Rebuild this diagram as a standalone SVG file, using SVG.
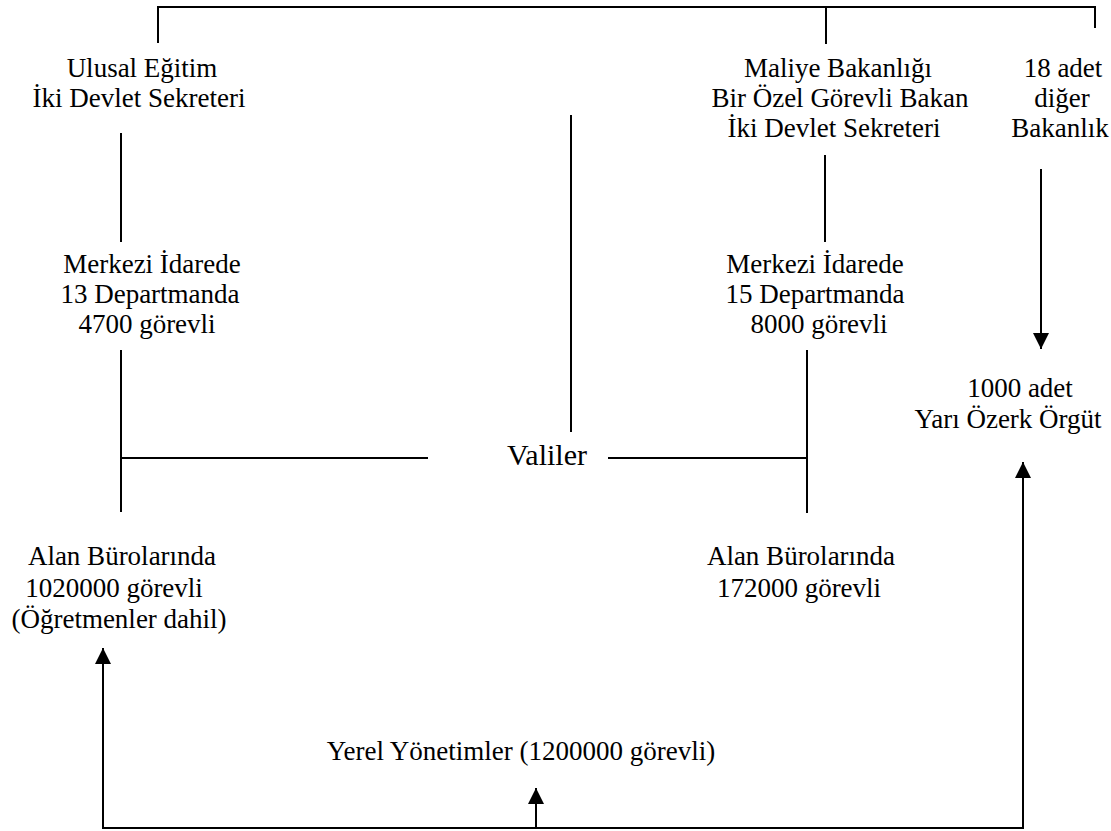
<svg xmlns="http://www.w3.org/2000/svg" width="1111" height="831" viewBox="0 0 1111 831">
<style>
text{font-family:"Liberation Serif","Times New Roman",serif;font-size:27px;fill:#000;text-anchor:middle}
.big{font-size:30px}
.ln{stroke:#000;stroke-width:2;fill:none}
</style>
<defs>
<marker id="ah" markerUnits="userSpaceOnUse" markerWidth="16" markerHeight="16" viewBox="0 0 16 16" refX="16" refY="8" orient="auto">
<path d="M0,0 L16,8 L0,16 Z" fill="#000"/>
</marker>
</defs>
<rect width="1111" height="831" fill="#fff"/>
<g id="connectors">
<path class="ln" d="M158,43 V7 H1095 V28 M826,7 V44"/>
<line class="ln" x1="121" y1="133" x2="121" y2="242"/>
<line class="ln" x1="121" y1="350" x2="121" y2="512"/>
<line class="ln" x1="121" y1="458" x2="428" y2="458"/>
<line class="ln" x1="825" y1="155" x2="825" y2="242"/>
<line class="ln" x1="807" y1="350" x2="807" y2="513"/>
<line class="ln" x1="608" y1="458" x2="807" y2="458"/>
<line class="ln" x1="571" y1="115" x2="571" y2="432"/>
<line class="ln" x1="1041" y1="169" x2="1041" y2="349" marker-end="url(#ah)"/>
<path class="ln" d="M536,828 H103 V648" marker-end="url(#ah)"/>
<path class="ln" d="M536,828 H1023 V462" marker-end="url(#ah)"/>
<line class="ln" x1="536" y1="828" x2="536" y2="788" marker-end="url(#ah)"/>
</g>
<g id="ulusal">
<text x="142" y="77">Ulusal Eğitim</text>
<text x="139" y="107">İki Devlet Sekreteri</text>
</g>
<g id="maliye">
<text x="838" y="77">Maliye Bakanlığı</text>
<text x="840" y="107">Bir Özel Görevli Bakan</text>
<text x="834" y="137">İki Devlet Sekreteri</text>
</g>
<g id="diger">
<text x="1063" y="77">18 adet</text>
<text x="1062" y="107">diğer</text>
<text x="1060" y="137">Bakanlık</text>
</g>
<g id="merkezi-left">
<text x="152" y="273">Merkezi İdarede</text>
<text x="150" y="303">13 Departmanda</text>
<text x="147" y="333">4700 görevli</text>
</g>
<g id="merkezi-right">
<text x="815" y="273">Merkezi İdarede</text>
<text x="815" y="303">15 Departmanda</text>
<text x="819" y="333">8000 görevli</text>
</g>
<g id="yariozerk">
<text x="1020" y="397">1000 adet</text>
<text x="1008" y="428">Yarı Özerk Örgüt</text>
</g>
<g id="valiler">
<text class="big" x="547" y="465">Valiler</text>
</g>
<g id="alan-left">
<text x="122" y="565">Alan Bürolarında</text>
<text x="114" y="597">1020000 görevli</text>
<text x="119" y="628">(Öğretmenler dahil)</text>
</g>
<g id="alan-right">
<text x="801" y="565">Alan Bürolarında</text>
<text x="799" y="597">172000 görevli</text>
</g>
<g id="yerel">
<text x="521" y="760">Yerel Yönetimler (1200000 görevli)</text>
</g>
</svg>
